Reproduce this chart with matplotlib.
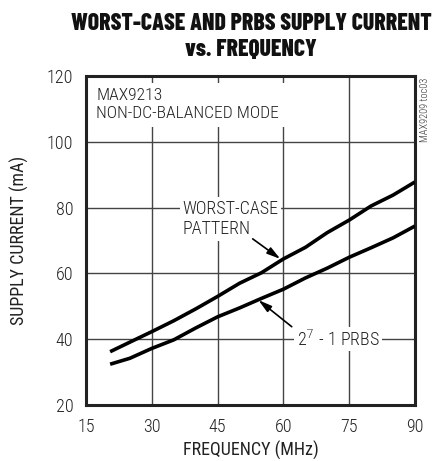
import matplotlib
matplotlib.use("Agg")
import matplotlib.pyplot as plt
from matplotlib import font_manager

# data
freq_wc = [20.5, 25, 30, 35, 40, 45, 50, 55, 60, 65, 70, 75, 80, 85, 90]
curr_wc = [36.2, 39.1, 42.3, 45.6, 49.2, 53.0, 57.0, 60.2, 64.4, 67.9, 72.4, 76.2, 80.5, 83.8, 87.8]
freq_prbs = [20.5, 25, 30, 35, 40, 45, 50, 55, 60, 65, 70, 75, 80, 85, 90]
curr_prbs = [32.4, 34.2, 37.2, 39.8, 43.4, 46.8, 49.5, 52.4, 55.2, 58.6, 61.6, 64.9, 67.8, 70.8, 74.4]

xticks = [15, 30, 45, 60, 75, 90]
yticks = [20, 40, 60, 80, 100, 120]


def pick(*cands):
    names = {f.name for f in font_manager.fontManager.ttflist}
    for c in cands:
        if c in names:
            return c
    return "DejaVu Sans"


body = pick("Roboto Condensed", "Archivo Narrow", "Barlow Semi Condensed")
head = pick("Barlow Condensed", "Roboto Condensed", "Archivo Narrow")
plt.rcParams["font.family"] = [body, "DejaVu Sans"]
plt.rcParams["font.weight"] = "light"
ink = "#222222"

fig = plt.figure(figsize=(4.34, 4.61), dpi=100)
ax = fig.add_axes([86 / 434, 1 - 405 / 461, 329 / 434, 329 / 461])

ax.plot(freq_wc, curr_wc, color="black", lw=2.6, solid_capstyle="butt", zorder=3)
ax.plot(freq_prbs, curr_prbs, color="black", lw=2.6, solid_capstyle="butt", zorder=3)

ax.set_xlim(15, 90)
ax.set_ylim(20, 120)
ax.set_xticks(xticks)
ax.set_yticks(yticks)
ax.grid(True, color="#444444", lw=1.0)
ax.set_axisbelow(True)
ax.tick_params(length=0, labelsize=13, pad=9, colors=ink)
for s in ax.spines.values():
    s.set_linewidth(2.2)
    s.set_color(ink)

ax.set_xlabel("FREQUENCY (MHz)", fontsize=13, color=ink, labelpad=4)
ax.set_ylabel("SUPPLY CURRENT (mA)", fontsize=13, color=ink, labelpad=13)

box = dict(facecolor="white", edgecolor="none", pad=2)
ax.text(17.3, 116.3, "MAX9213\nNON-DC-BALANCED MODE", fontsize=12.6, va="top", ha="left",
        linespacing=1.25, color=ink, bbox=dict(facecolor="white", edgecolor="none", pad=4), zorder=2)
ax.text(37.0, 76.6, "WORST-CASE\nPATTERN", fontsize=13, va="center", ha="left",
        linespacing=1.15, color=ink, bbox=box, zorder=2)
ax.text(63.0, 40, "2$^7$ - 1 PRBS", fontsize=13, va="center", ha="left",
        color=ink, bbox=box, zorder=2)

arrow = dict(arrowstyle="-|>,head_length=0.8,head_width=0.22", color="black", lw=1.2,
             shrinkA=0, shrinkB=0)
ax.annotate("", xy=(59.3, 64.4), xytext=(53.0, 70.5), arrowprops=arrow, zorder=4)
ax.annotate("", xy=(54.3, 51.9), xytext=(61.9, 43.8), arrowprops=arrow, zorder=4)

fig.text(251 / 434, 1 - 37 / 461, "WORST-CASE AND PRBS SUPPLY CURRENT\nvs. FREQUENCY",
         ha="center", va="center", fontsize=17.1, fontweight="heavy", linespacing=1.18,
         color="#111111", family=[head, "DejaVu Sans"])
fig.text(425 / 434, 1 - 110 / 461, "MAX9209 toc03", rotation=90, ha="center", va="center",
         fontsize=7.5, color="#333333")

fig.savefig("out.png", dpi=100)
